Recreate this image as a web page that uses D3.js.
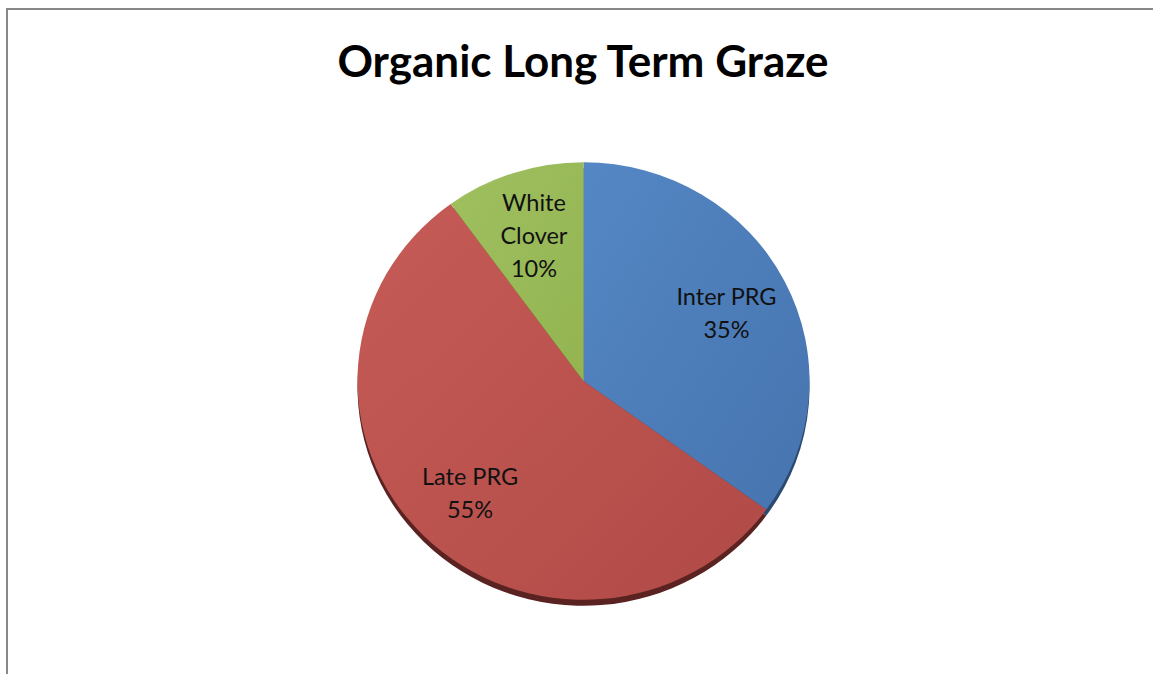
<!DOCTYPE html>
<meta charset="utf-8">
<style>
body { margin:0; background:#fff; }
text { font-family: Lato, "Open Sans", sans-serif; }
.title { font-weight:bold; font-size:44px; text-anchor:middle; }
.label { font-size:23.5px; text-anchor:middle; fill:#111; }
</style>
<body>
<script src="https://d3js.org/d3.v7.min.js"></script>
<script>

var categories = ["Inter PRG", "Late PRG", "White Clover"];
var values = [35, 55, 10];
var labelLines = [["Inter PRG", "35%"], ["Late PRG", "55%"], ["White", "Clover", "10%"]];

var colors = {"Inter PRG":["#5487c4","#4674af"], "Late PRG":["#c65b57","#b04a46"], "White Clover":["#a0c060","#93b451"]};
var sideColors = {"Inter PRG":"#2c4a70", "Late PRG":"#5a2322", "White Clover":"#55692e"};

var W = 1153, H = 674;
var svg = d3.select("body").append("svg").attr("width", W).attr("height", H);

// frame
svg.append("line").attr("x1",6).attr("x2",W).attr("y1",9).attr("y2",9)
	.attr("stroke","#888").attr("stroke-width",2);
svg.append("line").attr("x1",7).attr("x2",7).attr("y1",8).attr("y2",H)
	.attr("stroke","#888").attr("stroke-width",2);

svg.append("text").attr("class","title").attr("x",583).attr("y",77).text("Organic Long Term Graze");

var defs = svg.append("defs");
categories.forEach(function(c, i){
	var lg = defs.append("linearGradient").attr("id","g"+i)
		.attr("x1","0%").attr("y1","0%").attr("x2","100%").attr("y2","100%");
	lg.append("stop").attr("offset","0%").attr("stop-color",colors[c][0]);
	lg.append("stop").attr("offset","100%").attr("stop-color",colors[c][1]);
});

var R = 226, sy = 0.968, depth = 6;
var pie = d3.pie().sort(null).value(d=>d);
var arcs = pie(values);
var arc = d3.arc().innerRadius(0).outerRadius(R);
var labelArc = d3.arc().innerRadius(0).outerRadius(R*1.42);

var cx = 583.5, cy = 381;

// side of the 3d pie
var side = svg.append("g").attr("transform","translate("+cx+","+(cy+depth)+") scale(1,"+sy+")");
side.selectAll("path").data(arcs).enter().append("path")
	.attr("d", arc)
	.attr("fill", (d,i)=>sideColors[categories[i]]);

var g = svg.append("g").attr("transform","translate("+cx+","+cy+") scale(1,"+sy+")");
g.selectAll("path.slice").data(arcs).enter().append("path")
	.attr("class","slice")
	.attr("d", arc)
	.attr("fill", (d,i)=>"url(#g"+i+")");

var lab = svg.append("g").attr("transform","translate("+cx+","+cy+")");
arcs.forEach(function(d, i){
	var c = labelArc.centroid(d);
	var lines = labelLines[i];
	var lh = 33;
	var t = lab.append("text").attr("class","label")
		.attr("x", c[0]).attr("y", c[1]*sy - (lines.length-1)*lh/2 + 11);
	lines.forEach(function(l, j){
		t.append("tspan").attr("x", c[0]).attr("dy", j==0 ? 0 : lh).text(l);
	});
});

</script>
</body>
